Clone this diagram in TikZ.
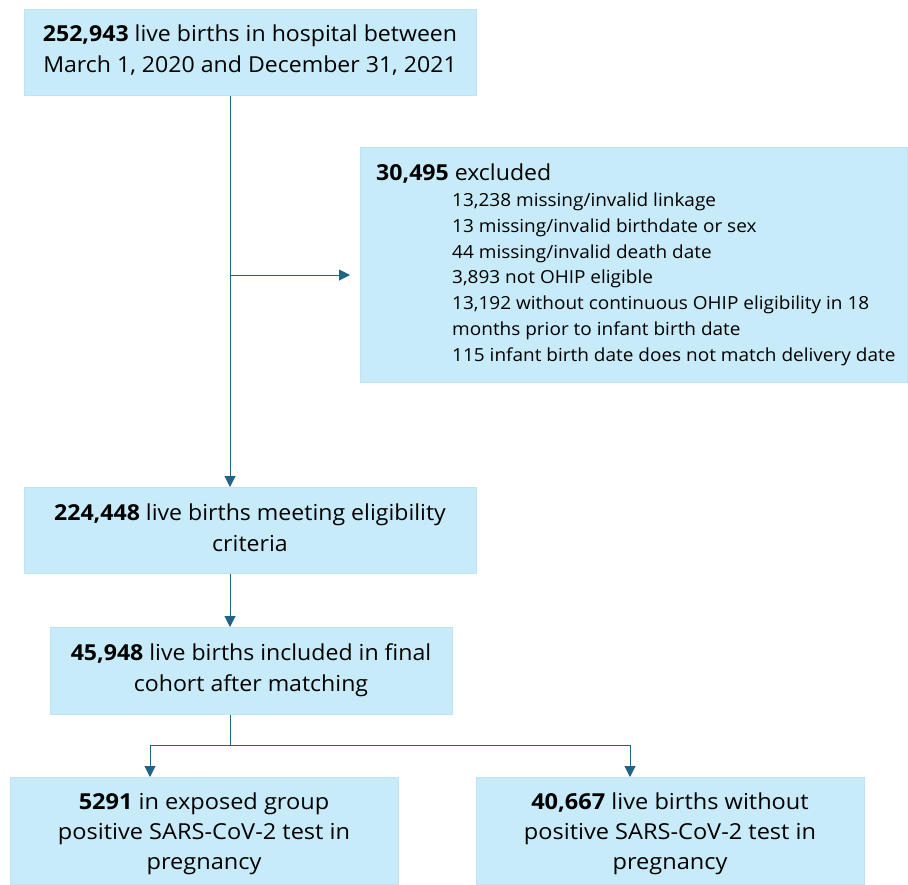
\documentclass[tikz,border=0pt]{standalone}
\usepackage{fontspec}
\setmainfont{Open Sans}
\usetikzlibrary{arrows.meta}
\definecolor{boxfill}{HTML}{C8EBF9}
\definecolor{boxedge}{HTML}{BFE3F2}
\definecolor{lineblue}{HTML}{1F6385}
\begin{document}
\begin{tikzpicture}[x=1pt,y=-1pt,
  box/.style={rectangle, fill=boxfill, draw=boxedge, line width=0.6pt, inner sep=0pt, anchor=north west},
  btext/.style={inner sep=0pt, align=center, font=\fontsize{22}{31}\selectfont, xscale=1.05, transform shape},
  conn/.style={draw=lineblue, line width=1pt},
  arr/.style={conn, -{Triangle[length=11pt,width=11pt]}}]
\useasboundingbox (0,0) rectangle (908,884);
\node[box, minimum width=452pt, minimum height=86pt] (b1) at (24,9) {};
\node[btext] (b1t) at (250,50)
  {\textbf{252,943} live births in hospital between\\March 1, 2020 and December 31, 2021};
\node[box, minimum width=547pt, minimum height=235pt] (ex) at (360,147) {};
\node[btext, anchor=west] (ext) at (376,174) {\textbf{30,495} excluded};
\node[anchor=north west, inner sep=0pt, align=left, font=\fontsize{18}{25.7}\selectfont, xscale=1.055, transform shape] (exl) at (452,193)
  {13,238 missing/invalid linkage\\
   13 missing/invalid birthdate or sex\\
   44 missing/invalid death date\\
   3,893 not OHIP eligible\\
   13,192 without continuous OHIP eligibility in 18\\
   months prior to infant birth date\\
   115 infant birth date does not match delivery date};
\node[box, minimum width=452pt, minimum height=86pt] (b3) at (24,487) {};
\node[btext] (b3t) at (250,528)
  {\textbf{224,448} live births meeting eligibility\\criteria};
\node[box, minimum width=402pt, minimum height=87pt] (b4) at (50,627) {};
\node[btext] (b4t) at (251,670)
  {\textbf{45,948} live births included in final\\cohort after matching};
\node[box, minimum width=388pt, minimum height=107pt] (b5) at (10,777) {};
\node[btext, font=\fontsize{22}{30}\selectfont, xscale=1.02] (b5t) at (204,834)
  {\textbf{5291} in exposed group\\positive SARS-CoV-2 test in\\pregnancy};
\node[box, minimum width=388pt, minimum height=107pt] (b6) at (476,777) {};
\node[btext, font=\fontsize{22}{30}\selectfont, xscale=1.02] (b6t) at (670,834)
  {\textbf{40,667} live births without\\positive SARS-CoV-2 test in\\pregnancy};
\coordinate (j1) at (230,275);
\coordinate (j2) at (230,745);
\coordinate (l2) at (150,745);
\coordinate (r2) at (630,745);
\draw[arr] (b1.south -| j1) -- (b3.north -| j1);
\draw[arr] (j1) -- ([xshift=-10pt]ex.west |- j1);
\draw[arr] (b3.south -| j1) -- (b4.north -| j1);
\draw[conn] (b4.south -| j2) -- (j2);
\draw[conn] (l2) -- (r2);
\draw[arr] (l2) -- (b5.north -| l2);
\draw[arr] (r2) -- (b6.north -| r2);
\end{tikzpicture}
\end{document}
